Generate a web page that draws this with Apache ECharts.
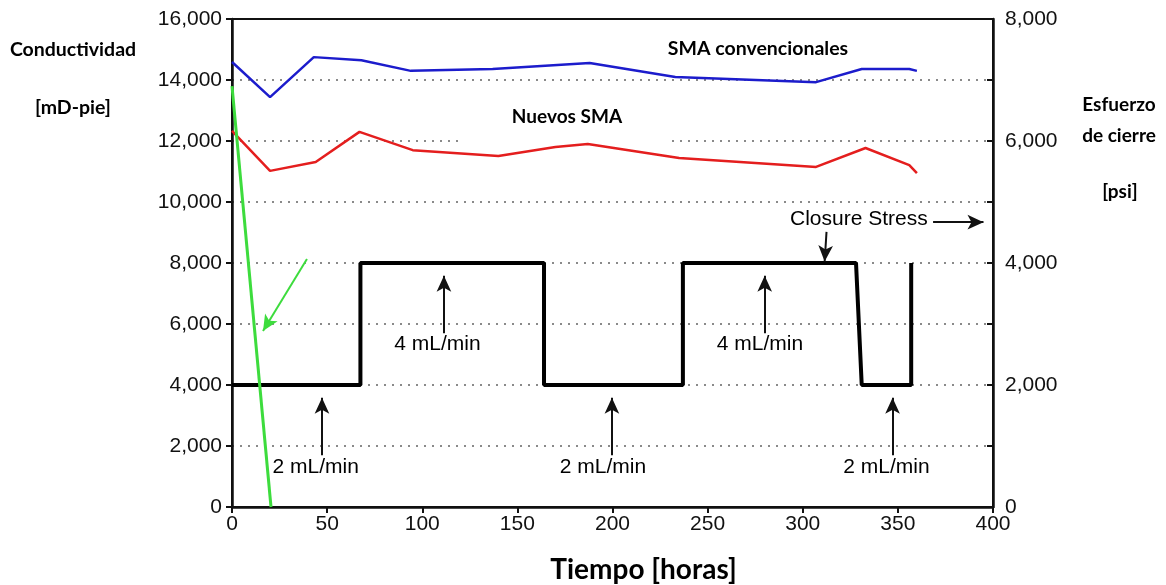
<!DOCTYPE html>
<html>
<head>
<meta charset="utf-8">
<script src="https://cdn.jsdelivr.net/npm/echarts@6/dist/echarts.min.js"></script>
<style>
  html, body { margin: 0; padding: 0; background: #fff; }
  #chart { width: 1166px; height: 585px; }
</style>
</head>
<body>
<div id="chart"></div>
<script>
// conductividad [mD-pie] vs tiempo [horas]
var smaConvencionales = [[0, 14590], [20, 13440], [43, 14750], [68, 14650], [94, 14300], [137, 14360],
    [188, 14560], [233, 14100], [307, 13930], [331, 14360], [356, 14360], [360, 14300]];
var nuevosSma = [[0, 12330], [20, 11020], [44, 11310], [67, 12300], [95, 11700], [140, 11510],
    [170, 11800], [187, 11900], [235, 11440], [307, 11150], [333, 11770], [356, 11210], [360, 10950]];
var lineaVerde = [[0, 13800], [20.5, 0]];
// esfuerzo de cierre [psi], eje derecho
var esfuerzoCierre = [[0, 2000], [67.5, 2000], [67.5, 4000], [164, 4000], [164, 2000], [237, 2000],
    [237, 4000], [328, 4000], [331, 2000], [357, 2000], [357, 4000]];

// flechas [x1, y1, x2, y2] en unidades del eje izquierdo
var flechasNegras = [[47.3, 1700, 47.3, 3580], [111.4, 5700, 111.4, 7580], [199.7, 1700, 199.7, 3580],
    [280, 5700, 280, 7580], [347.2, 1700, 347.2, 3580], [312.5, 9020, 311.5, 8050], [368.5, 9340, 395, 9340]];
var flechaVerde = [39.4, 8130, 16.3, 5770];
var rotulos = [['2 mL/min', 44, 1310], ['4 mL/min', 108, 5340], ['2 mL/min', 195, 1310],
    ['4 mL/min', 277.5, 5340], ['2 mL/min', 344, 1310], ['Closure Stress', 329.5, 9440]];

var fmt = function (v) { return v.toLocaleString('en-US'); };

function flechas(lista) {
    return lista.map(function (f) {
        return [{coord: [f[0], f[1]], symbol: 'none'},
                {coord: [f[2], f[3]], symbol: 'arrow', symbolSize: [11, 16]}];
    });
}

var chart = echarts.init(document.getElementById('chart'));

var titulo = function (txt, x, y, size) {
    return {type: 'text', x: x, y: y,
        style: {text: txt, font: 'bold ' + size + 'px Lato', fill: '#000', align: 'center', verticalAlign: 'middle'}};
};

var option = {
    animation: false,
    grid: {left: 232, right: 173, top: 19, bottom: 78, show: true, borderColor: '#111', borderWidth: 2,
        containLabel: false, outerBoundsMode: 'none'},
    xAxis: {
        type: 'value', min: 0, max: 400, interval: 50,
        name: 'Tiempo [horas]', nameLocation: 'middle', nameGap: 49,
        nameTextStyle: {fontFamily: 'Lato', fontWeight: 'bold', fontSize: 28, color: '#000', padding: [0, 0, 0, 62]},
        axisLine: {lineStyle: {color: '#111', width: 2.5}},
        axisTick: {length: 6, lineStyle: {color: '#111', width: 2}},
        axisLabel: {fontFamily: 'Liberation Sans', fontSize: 21, color: '#111', margin: 7},
        splitLine: {show: false}
    },
    yAxis: [
        {
            type: 'value', min: 0, max: 16000, interval: 2000,
            axisLine: {show: true, lineStyle: {color: '#111', width: 2.5}},
            axisTick: {show: true, length: 6, lineStyle: {color: '#111', width: 2}},
            axisLabel: {fontFamily: 'Liberation Sans', fontSize: 21, color: '#111', margin: 10, formatter: fmt},
            splitLine: {show: true, showMinLine: false, showMaxLine: false,
                lineStyle: {color: '#8a8a8a', width: 2, type: [2, 6]}}
        },
        {
            type: 'value', min: 0, max: 8000, interval: 1000, position: 'right',
            axisLine: {show: true, lineStyle: {color: '#111', width: 2.5}},
            axisTick: {show: true, inside: true, length: 6, lineStyle: {color: '#111', width: 2}},
            axisLabel: {fontFamily: 'Liberation Sans', fontSize: 21, color: '#111', margin: 12,
                formatter: function (v) { return v % 2000 === 0 ? fmt(v) : ''; }},
            splitLine: {show: false}
        }
    ],
    graphic: [
        titulo('Conductividad', 73, 50, 19.5),
        titulo('[mD-pie]', 73, 108, 19.5),
        titulo('Esfuerzo', 1119, 105, 19),
        titulo('de cierre', 1119, 136, 19),
        titulo('[psi]', 1120, 192, 19),
        {type: 'rect', x: 463, y: 100, z: 1, shape: {width: 209, height: 42}, style: {fill: '#fff'}},
        {type: 'rect', x: 660, y: 36, z: 1, shape: {width: 200, height: 22}, style: {fill: '#fff'}},
        {type: 'text', x: 758, y: 49, z: 10, style: {text: 'SMA convencionales', font: 'bold 19.5px Lato',
            fill: '#000', align: 'center', verticalAlign: 'middle'}},
        {type: 'text', x: 567, y: 117, z: 10, style: {text: 'Nuevos SMA', font: 'bold 19px Lato',
            fill: '#000', align: 'center', verticalAlign: 'middle'}}
    ],
    series: [
        {
            name: 'SMA convencionales', type: 'line', data: smaConvencionales, symbol: 'none', z: 3,
            lineStyle: {color: '#1c1ccc', width: 2.5}
        },
        {
            name: 'Nuevos SMA', type: 'line', data: nuevosSma, symbol: 'none', z: 3,
            lineStyle: {color: '#e41e1e', width: 2.5}
        },
        {
            name: 'verde', type: 'line', data: lineaVerde, symbol: 'none', z: 4,
            lineStyle: {color: '#3ddc3d', width: 3},
            markLine: {
                silent: true, animation: false, label: {show: false},
                lineStyle: {color: '#3ddc3d', width: 2, type: 'solid'},
                data: flechas([flechaVerde])
            }
        },
        {
            name: 'Closure Stress', type: 'line', yAxisIndex: 1, data: esfuerzoCierre, symbol: 'none', z: 3,
            lineStyle: {color: '#000', width: 4}
        },
        {
            name: 'anotaciones', type: 'scatter', symbolSize: 1, z: 5,
            itemStyle: {color: 'rgba(0,0,0,0)'},
            data: rotulos.map(function (r) { return {name: r[0], value: [r[1], r[2]]}; }),
            label: {show: true, position: 'inside', formatter: '{b}', fontFamily: 'Liberation Sans',
                fontSize: 21, color: '#000', opacity: 1},
            markLine: {
                silent: true, animation: false, label: {show: false},
                lineStyle: {color: '#111', width: 2, type: 'solid'},
                data: flechas(flechasNegras)
            }
        }
    ]
};

chart.setOption(option);
</script>
</body>
</html>
